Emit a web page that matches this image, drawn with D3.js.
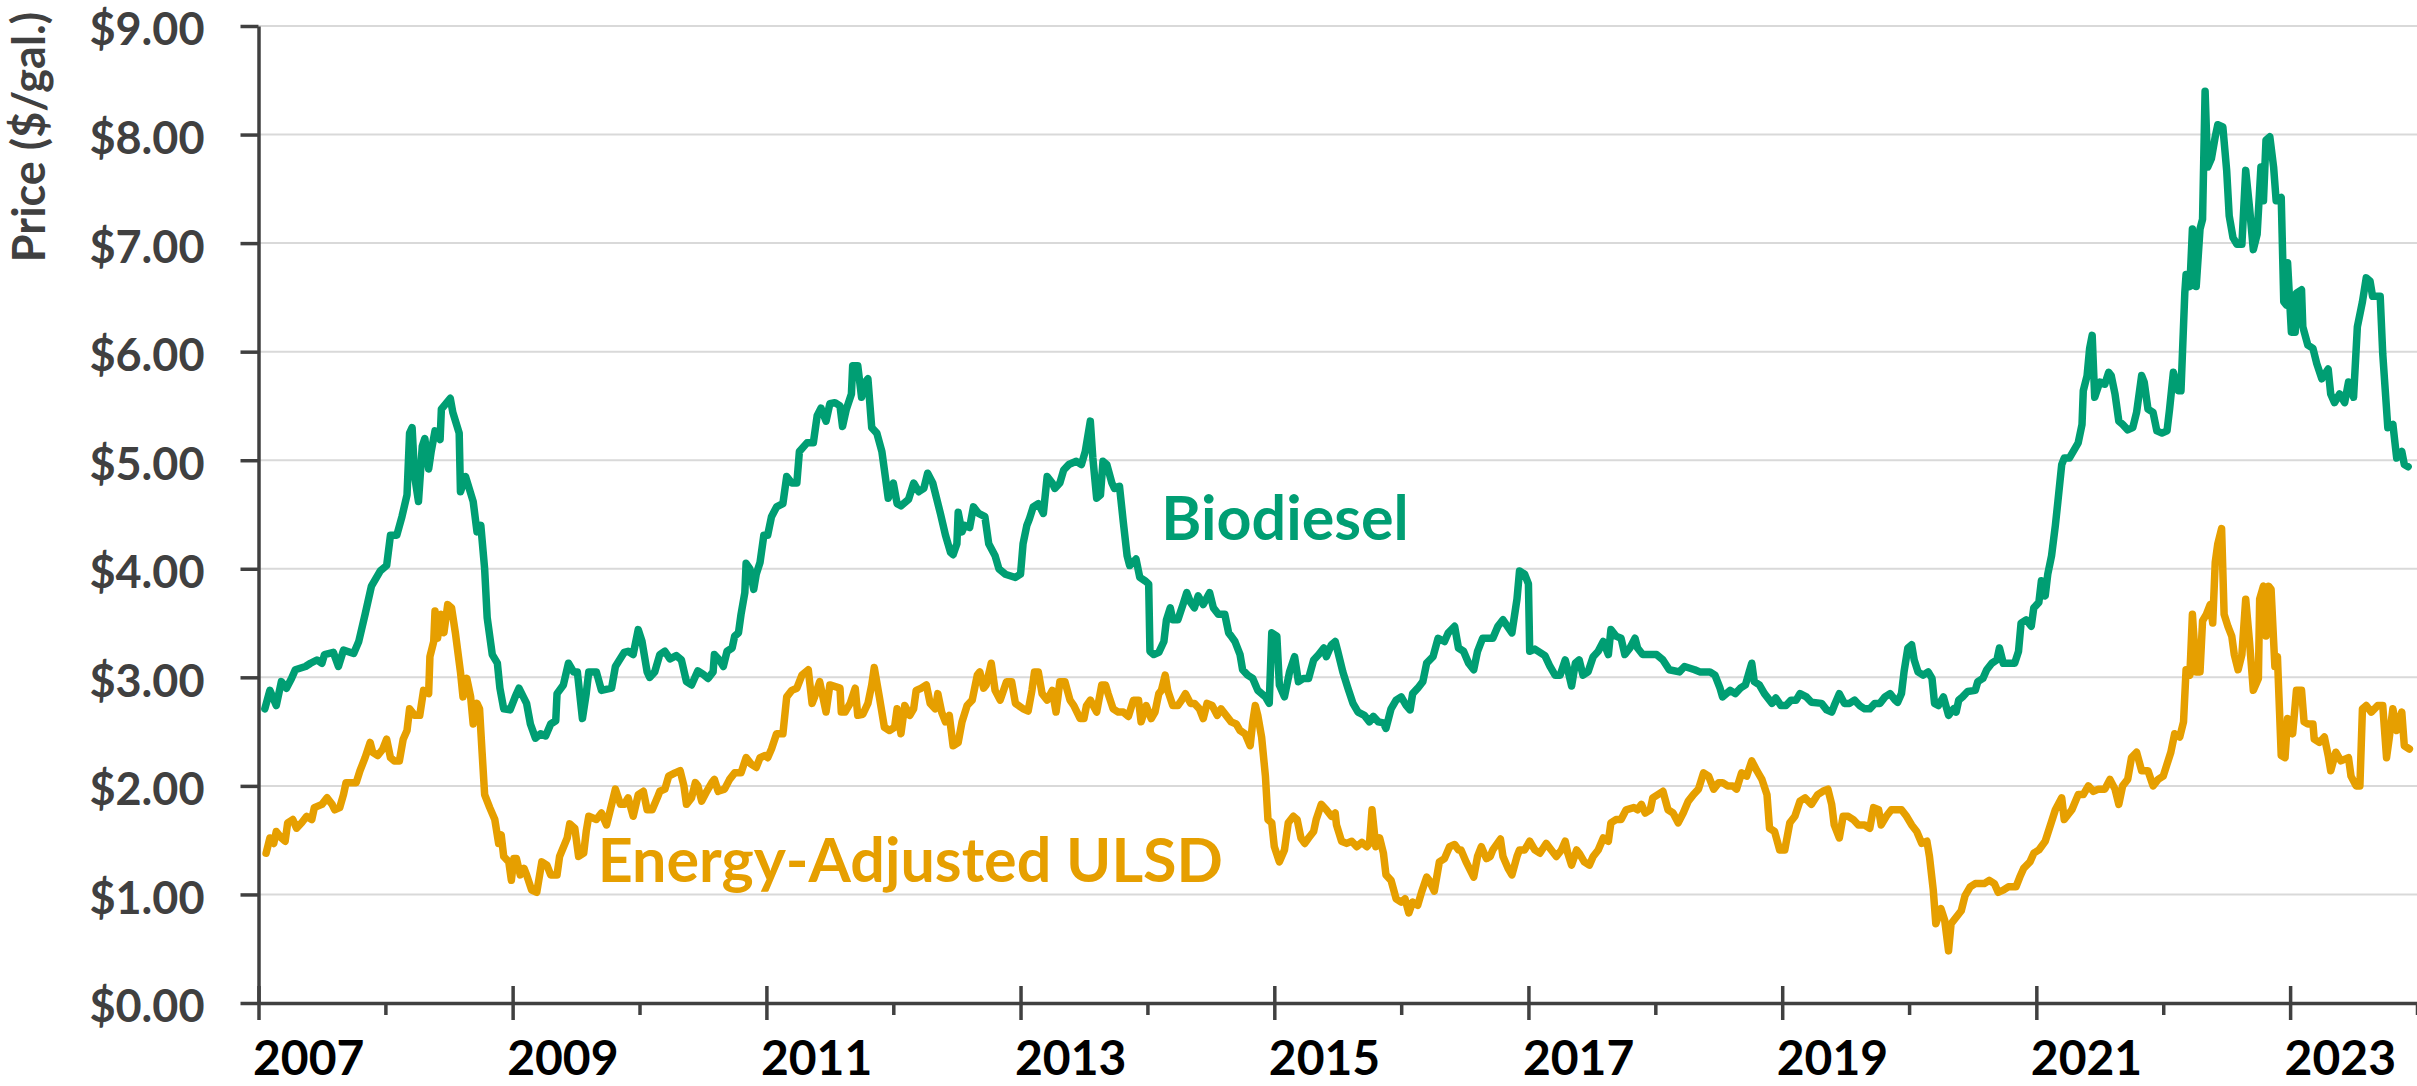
<!DOCTYPE html>
<html>
<head>
<meta charset="utf-8">
<script src="https://cdn.jsdelivr.net/npm/d3@7"></script>
<style>
    body { margin: 0; background: #fff; }
    svg { display: block; font-family: Lato, "Open Sans", sans-serif; font-weight: 700; }
</style>
</head>
<body>
<div class="content"></div>
<script>
// weekly prices, [decimal year, $/gal]
var biodieselPrices = [
    [2007.05,2.71],[2007.09,2.88],[2007.14,2.74],[2007.18,2.96],[2007.22,2.90],[2007.26,2.99],[2007.29,3.07],[2007.37,3.10],[2007.41,3.13],[2007.46,3.16],[2007.50,3.13],[2007.52,3.21],[2007.59,3.23],[2007.63,3.10],[2007.67,3.25],[2007.75,3.22],[2007.79,3.33],[2007.84,3.58],[2007.89,3.84],[2007.96,3.98],
    [2008.01,4.03],[2008.04,4.31],[2008.09,4.31],[2008.13,4.48],[2008.17,4.68],[2008.19,5.25],[2008.21,5.30],[2008.23,4.85],[2008.26,4.62],[2008.29,5.13],[2008.31,5.20],[2008.34,4.92],[2008.36,5.08],[2008.39,5.27],[2008.43,5.19],[2008.44,5.47],[2008.51,5.57],[2008.53,5.44],[2008.58,5.25],[2008.59,4.71],[2008.63,4.85],[2008.69,4.62],[2008.72,4.34],[2008.75,4.40],[2008.78,4.00],[2008.80,3.55],[2008.84,3.21],[2008.88,3.13],[2008.90,2.90],[2008.93,2.71],[2008.98,2.70],
    [2009.02,2.82],[2009.05,2.90],[2009.11,2.76],[2009.14,2.57],[2009.18,2.44],[2009.22,2.48],[2009.26,2.46],[2009.30,2.57],[2009.34,2.60],[2009.35,2.85],[2009.40,2.93],[2009.44,3.13],[2009.48,3.05],[2009.51,3.05],[2009.55,2.62],[2009.58,2.85],[2009.60,3.05],[2009.66,3.05],[2009.70,2.88],[2009.78,2.90],[2009.81,3.10],[2009.88,3.23],[2009.91,3.24],[2009.95,3.21],[2009.99,3.44],
    [2010.02,3.33],[2010.06,3.05],[2010.08,3.00],[2010.12,3.05],[2010.16,3.21],[2010.20,3.24],[2010.24,3.17],[2010.29,3.20],[2010.33,3.16],[2010.37,2.96],[2010.41,2.93],[2010.46,3.06],[2010.50,3.03],[2010.54,2.99],[2010.58,3.05],[2010.59,3.21],[2010.63,3.16],[2010.66,3.10],[2010.69,3.24],[2010.73,3.27],[2010.75,3.38],[2010.78,3.41],[2010.80,3.58],[2010.83,3.78],[2010.84,4.05],[2010.87,4.00],[2010.90,3.81],[2010.92,3.95],[2010.95,4.06],[2010.98,4.31],
    [2011.01,4.31],[2011.04,4.48],[2011.08,4.57],[2011.13,4.60],[2011.16,4.85],[2011.20,4.79],[2011.24,4.79],[2011.26,5.08],[2011.32,5.16],[2011.37,5.16],[2011.40,5.41],[2011.43,5.48],[2011.47,5.36],[2011.50,5.52],[2011.54,5.53],[2011.58,5.50],[2011.60,5.31],[2011.63,5.47],[2011.67,5.61],[2011.68,5.87],[2011.72,5.87],[2011.75,5.58],[2011.78,5.72],[2011.80,5.75],[2011.83,5.30],[2011.87,5.25],[2011.91,5.08],[2011.93,4.91],[2011.96,4.65],
    [2012.00,4.79],[2012.03,4.60],[2012.06,4.58],[2012.12,4.64],[2012.16,4.79],[2012.20,4.71],[2012.24,4.74],[2012.27,4.88],[2012.31,4.79],[2012.37,4.51],[2012.41,4.31],[2012.45,4.15],[2012.47,4.13],[2012.50,4.23],[2012.51,4.52],[2012.54,4.34],[2012.56,4.40],[2012.60,4.38],[2012.63,4.57],[2012.67,4.51],[2012.72,4.48],[2012.75,4.23],[2012.80,4.12],[2012.83,4.00],[2012.88,3.95],[2012.96,3.92],
    [2013.00,3.95],[2013.02,4.23],[2013.05,4.40],[2013.07,4.46],[2013.10,4.57],[2013.14,4.60],[2013.18,4.51],[2013.21,4.85],[2013.25,4.79],[2013.27,4.74],[2013.31,4.79],[2013.34,4.91],[2013.38,4.96],[2013.44,4.99],[2013.48,4.96],[2013.51,5.08],[2013.55,5.36],[2013.57,5.02],[2013.60,4.65],[2013.63,4.68],[2013.65,4.99],[2013.68,4.96],[2013.72,4.79],[2013.74,4.74],[2013.78,4.76],[2013.81,4.43],[2013.84,4.12],[2013.86,4.03],[2013.91,4.09],[2013.94,3.92],[2013.98,3.89],
    [2014.01,3.86],[2014.02,3.24],[2014.05,3.21],[2014.09,3.23],[2014.13,3.33],[2014.15,3.53],[2014.18,3.64],[2014.20,3.53],[2014.24,3.53],[2014.28,3.67],[2014.31,3.78],[2014.34,3.69],[2014.37,3.64],[2014.40,3.75],[2014.44,3.67],[2014.49,3.78],[2014.52,3.64],[2014.56,3.58],[2014.61,3.58],[2014.64,3.41],[2014.66,3.38],[2014.69,3.33],[2014.73,3.21],[2014.75,3.07],[2014.79,3.02],[2014.83,2.99],[2014.87,2.88],[2014.93,2.82],[2014.96,2.76],[2014.98,3.41],
    [2015.02,3.38],[2015.04,2.93],[2015.08,2.82],[2015.12,3.05],[2015.16,3.19],[2015.19,2.96],[2015.23,2.99],[2015.27,2.99],[2015.31,3.16],[2015.35,3.21],[2015.39,3.27],[2015.41,3.19],[2015.45,3.30],[2015.48,3.33],[2015.50,3.24],[2015.54,3.05],[2015.58,2.90],[2015.62,2.76],[2015.66,2.68],[2015.71,2.65],[2015.75,2.59],[2015.78,2.64],[2015.82,2.59],[2015.86,2.58],[2015.88,2.53],[2015.92,2.71],[2015.96,2.79],
    [2016.00,2.82],[2016.04,2.74],[2016.07,2.70],[2016.09,2.85],[2016.13,2.90],[2016.17,2.96],[2016.20,3.13],[2016.25,3.19],[2016.29,3.36],[2016.34,3.33],[2016.37,3.41],[2016.42,3.47],[2016.45,3.27],[2016.49,3.24],[2016.53,3.13],[2016.57,3.07],[2016.60,3.24],[2016.64,3.36],[2016.72,3.36],[2016.76,3.47],[2016.80,3.53],[2016.87,3.41],[2016.91,3.72],[2016.93,3.98],[2016.97,3.95],
    [2017.00,3.86],[2017.01,3.24],[2017.05,3.26],[2017.09,3.23],[2017.13,3.20],[2017.17,3.10],[2017.21,3.02],[2017.25,3.02],[2017.29,3.16],[2017.31,3.07],[2017.34,2.92],[2017.37,3.13],[2017.40,3.16],[2017.43,3.02],[2017.47,3.05],[2017.51,3.19],[2017.55,3.24],[2017.59,3.33],[2017.63,3.21],[2017.65,3.44],[2017.69,3.38],[2017.73,3.36],[2017.76,3.21],[2017.80,3.27],[2017.84,3.36],[2017.86,3.27],[2017.90,3.21],
    [2018.01,3.21],[2018.06,3.16],[2018.11,3.07],[2018.19,3.05],[2018.23,3.10],[2018.31,3.07],[2018.35,3.05],[2018.43,3.05],[2018.47,3.02],[2018.51,2.90],[2018.53,2.82],[2018.59,2.88],[2018.63,2.85],[2018.67,2.90],[2018.71,2.93],[2018.74,3.05],[2018.76,3.13],[2018.78,2.96],[2018.82,2.93],[2018.86,2.85],[2018.92,2.76],[2018.95,2.81],[2018.99,2.74],
    [2019.03,2.74],[2019.07,2.79],[2019.11,2.79],[2019.14,2.85],[2019.19,2.82],[2019.23,2.77],[2019.31,2.76],[2019.35,2.70],[2019.39,2.68],[2019.41,2.74],[2019.45,2.85],[2019.49,2.76],[2019.53,2.76],[2019.57,2.79],[2019.61,2.74],[2019.65,2.71],[2019.69,2.71],[2019.73,2.76],[2019.77,2.76],[2019.81,2.82],[2019.85,2.85],[2019.89,2.79],[2019.91,2.77],[2019.94,2.85],[2019.96,3.05],[2019.99,3.27],
    [2020.02,3.30],[2020.04,3.16],[2020.07,3.05],[2020.11,3.02],[2020.15,3.05],[2020.18,2.99],[2020.20,2.76],[2020.23,2.74],[2020.27,2.82],[2020.31,2.65],[2020.35,2.71],[2020.37,2.68],[2020.39,2.79],[2020.42,2.82],[2020.46,2.87],[2020.52,2.88],[2020.54,2.96],[2020.58,2.99],[2020.61,3.07],[2020.65,3.13],[2020.69,3.16],[2020.71,3.27],[2020.74,3.13],[2020.83,3.13],[2020.86,3.24],[2020.88,3.50],[2020.92,3.53],[2020.96,3.47],[2020.98,3.64],
    [2021.02,3.69],[2021.04,3.89],[2021.07,3.75],[2021.09,3.95],[2021.12,4.12],[2021.15,4.40],[2021.17,4.62],[2021.20,4.96],[2021.22,5.02],[2021.26,5.02],[2021.29,5.08],[2021.33,5.16],[2021.36,5.33],[2021.37,5.64],[2021.40,5.78],[2021.42,6.03],[2021.44,6.15],[2021.46,5.58],[2021.50,5.72],[2021.54,5.70],[2021.57,5.81],[2021.59,5.78],[2021.62,5.61],[2021.65,5.36],[2021.68,5.33],[2021.72,5.28],[2021.76,5.30],[2021.79,5.44],[2021.83,5.78],[2021.85,5.72],[2021.88,5.47],[2021.92,5.44],[2021.95,5.27],[2021.99,5.25],
    [2022.03,5.27],[2022.05,5.47],[2022.08,5.81],[2022.12,5.64],[2022.14,5.64],[2022.17,6.54],[2022.18,6.71],[2022.21,6.60],[2022.23,7.13],[2022.26,6.60],[2022.29,7.13],[2022.31,7.22],[2022.33,8.40],[2022.35,7.70],[2022.38,7.78],[2022.41,7.98],[2022.43,8.09],[2022.47,8.07],[2022.50,7.67],[2022.52,7.25],[2022.55,7.05],[2022.58,6.99],[2022.62,6.99],[2022.65,7.67],[2022.68,7.33],[2022.71,6.94],[2022.74,7.08],[2022.77,7.70],[2022.79,7.39],[2022.81,7.95],[2022.84,7.98],[2022.87,7.70],[2022.89,7.39],[2022.93,7.42],[2022.95,6.46],[2022.97,6.43],[2022.98,6.82],
    [2023.01,6.18],[2023.04,6.18],[2023.05,6.54],[2023.09,6.57],[2023.10,6.23],[2023.14,6.06],[2023.18,6.03],[2023.21,5.89],[2023.25,5.75],[2023.30,5.84],[2023.32,5.61],[2023.35,5.53],[2023.39,5.61],[2023.43,5.53],[2023.46,5.72],[2023.50,5.58],[2023.53,6.23],[2023.57,6.46],[2023.60,6.68],[2023.63,6.65],[2023.65,6.51],[2023.71,6.51],[2023.73,5.98],[2023.77,5.30],[2023.81,5.33],[2023.84,5.02],[2023.88,5.08],[2023.90,4.96],[2023.93,4.94]
];

var ulsdPrices = [
    [2007.06,1.38],[2007.09,1.52],[2007.12,1.47],[2007.14,1.58],[2007.18,1.52],[2007.21,1.49],[2007.23,1.66],[2007.27,1.69],[2007.30,1.61],[2007.34,1.66],[2007.38,1.72],[2007.42,1.69],[2007.44,1.80],[2007.50,1.83],[2007.54,1.89],[2007.58,1.83],[2007.60,1.78],[2007.64,1.80],[2007.67,1.92],[2007.69,2.03],[2007.77,2.03],[2007.80,2.14],[2007.84,2.26],[2007.88,2.40],[2007.90,2.31],[2007.94,2.28],[2007.98,2.34],
    [2008.01,2.43],[2008.04,2.26],[2008.07,2.23],[2008.11,2.23],[2008.14,2.43],[2008.17,2.51],[2008.19,2.71],[2008.23,2.65],[2008.27,2.65],[2008.30,2.88],[2008.34,2.85],[2008.35,3.19],[2008.38,3.33],[2008.39,3.61],[2008.41,3.36],[2008.44,3.58],[2008.46,3.41],[2008.49,3.67],[2008.52,3.64],[2008.55,3.41],[2008.59,3.05],[2008.61,2.82],[2008.64,2.99],[2008.67,2.82],[2008.69,2.57],[2008.72,2.76],[2008.74,2.71],[2008.76,2.31],[2008.78,1.92],[2008.82,1.80],[2008.86,1.69],[2008.89,1.47],[2008.91,1.55],[2008.93,1.35],[2008.97,1.30],[2008.99,1.13],
    [2009.01,1.33],[2009.03,1.33],[2009.06,1.18],[2009.09,1.24],[2009.11,1.18],[2009.15,1.04],[2009.19,1.02],[2009.23,1.30],[2009.27,1.27],[2009.30,1.18],[2009.35,1.18],[2009.37,1.35],[2009.43,1.52],[2009.45,1.65],[2009.49,1.61],[2009.52,1.35],[2009.56,1.38],[2009.58,1.58],[2009.60,1.72],[2009.66,1.69],[2009.70,1.75],[2009.74,1.64],[2009.77,1.78],[2009.81,1.97],[2009.85,1.83],[2009.88,1.83],[2009.91,1.89],[2009.95,1.72],[2009.99,1.92],
    [2010.03,1.95],[2010.06,1.78],[2010.10,1.78],[2010.14,1.89],[2010.16,1.95],[2010.20,1.97],[2010.23,2.09],[2010.28,2.12],[2010.32,2.14],[2010.35,2.00],[2010.37,1.83],[2010.41,1.89],[2010.44,2.03],[2010.46,2.00],[2010.49,1.86],[2010.53,1.95],[2010.57,2.03],[2010.59,2.06],[2010.62,1.95],[2010.67,1.97],[2010.71,2.06],[2010.75,2.12],[2010.80,2.12],[2010.84,2.26],[2010.88,2.20],[2010.92,2.17],[2010.95,2.26],[2010.99,2.28],
    [2011.01,2.26],[2011.04,2.34],[2011.08,2.48],[2011.13,2.48],[2011.16,2.82],[2011.20,2.88],[2011.24,2.90],[2011.28,3.02],[2011.33,3.07],[2011.36,2.76],[2011.38,2.82],[2011.42,2.96],[2011.47,2.68],[2011.50,2.93],[2011.58,2.90],[2011.59,2.68],[2011.62,2.68],[2011.66,2.76],[2011.70,2.90],[2011.72,2.65],[2011.76,2.66],[2011.80,2.76],[2011.83,2.93],[2011.85,3.09],[2011.89,2.82],[2011.93,2.54],[2011.97,2.51],
    [2012.01,2.54],[2012.03,2.71],[2012.06,2.48],[2012.09,2.74],[2012.13,2.65],[2012.16,2.71],[2012.18,2.88],[2012.22,2.90],[2012.26,2.93],[2012.29,2.76],[2012.33,2.71],[2012.35,2.85],[2012.38,2.68],[2012.41,2.59],[2012.44,2.65],[2012.47,2.37],[2012.51,2.40],[2012.54,2.59],[2012.58,2.74],[2012.62,2.79],[2012.66,3.02],[2012.68,3.05],[2012.71,2.90],[2012.73,2.93],[2012.77,3.13],[2012.80,2.88],[2012.84,2.79],[2012.89,2.96],[2012.93,2.96],[2012.96,2.76],
    [2013.02,2.71],[2013.06,2.69],[2013.09,2.88],[2013.11,3.05],[2013.14,3.05],[2013.17,2.85],[2013.21,2.79],[2013.25,2.88],[2013.28,2.68],[2013.31,2.96],[2013.35,2.96],[2013.39,2.79],[2013.42,2.74],[2013.47,2.62],[2013.50,2.62],[2013.52,2.74],[2013.55,2.79],[2013.60,2.68],[2013.64,2.93],[2013.67,2.93],[2013.69,2.85],[2013.73,2.71],[2013.77,2.68],[2013.81,2.68],[2013.85,2.64],[2013.89,2.79],[2013.93,2.79],[2013.95,2.59],[2013.99,2.74],
    [2014.03,2.62],[2014.06,2.68],[2014.09,2.85],[2014.11,2.88],[2014.14,3.02],[2014.16,2.88],[2014.20,2.74],[2014.24,2.74],[2014.27,2.79],[2014.30,2.85],[2014.34,2.76],[2014.37,2.76],[2014.41,2.71],[2014.44,2.62],[2014.47,2.76],[2014.51,2.74],[2014.55,2.65],[2014.58,2.71],[2014.62,2.65],[2014.66,2.59],[2014.70,2.57],[2014.73,2.51],[2014.77,2.48],[2014.81,2.37],[2014.83,2.59],[2014.85,2.74],[2014.87,2.65],[2014.90,2.45],[2014.93,2.09],[2014.95,1.69],[2014.98,1.66],
    [2015.00,1.44],[2015.04,1.30],[2015.08,1.41],[2015.11,1.66],[2015.15,1.72],[2015.18,1.69],[2015.21,1.52],[2015.24,1.47],[2015.27,1.52],[2015.31,1.58],[2015.33,1.69],[2015.37,1.83],[2015.41,1.78],[2015.45,1.72],[2015.48,1.75],[2015.49,1.64],[2015.53,1.49],[2015.57,1.47],[2015.61,1.49],[2015.65,1.44],[2015.69,1.48],[2015.73,1.44],[2015.75,1.47],[2015.77,1.78],[2015.80,1.44],[2015.83,1.52],[2015.86,1.38],[2015.88,1.18],[2015.92,1.13],[2015.96,0.96],
    [2016.00,0.93],[2016.03,0.96],[2016.06,0.83],[2016.09,0.93],[2016.13,0.90],[2016.16,1.02],[2016.20,1.16],[2016.22,1.13],[2016.26,1.03],[2016.30,1.30],[2016.34,1.33],[2016.38,1.44],[2016.42,1.46],[2016.45,1.41],[2016.47,1.41],[2016.51,1.30],[2016.57,1.16],[2016.60,1.35],[2016.63,1.44],[2016.67,1.33],[2016.70,1.35],[2016.72,1.41],[2016.78,1.51],[2016.80,1.35],[2016.84,1.24],[2016.87,1.18],[2016.91,1.35],[2016.93,1.41],[2016.97,1.41],
    [2017.01,1.49],[2017.05,1.41],[2017.09,1.38],[2017.14,1.47],[2017.18,1.41],[2017.22,1.35],[2017.26,1.41],[2017.29,1.49],[2017.31,1.38],[2017.34,1.27],[2017.38,1.41],[2017.40,1.38],[2017.44,1.30],[2017.48,1.27],[2017.51,1.35],[2017.55,1.41],[2017.59,1.52],[2017.63,1.49],[2017.65,1.66],[2017.69,1.69],[2017.73,1.69],[2017.77,1.78],[2017.83,1.80],[2017.86,1.78],[2017.89,1.83],[2017.92,1.75],[2017.96,1.78],[2017.98,1.89],
    [2018.02,1.92],[2018.06,1.95],[2018.10,1.78],[2018.14,1.75],[2018.18,1.66],[2018.22,1.75],[2018.26,1.86],[2018.30,1.92],[2018.34,1.97],[2018.38,2.12],[2018.42,2.09],[2018.46,1.97],[2018.50,2.03],[2018.53,2.03],[2018.57,2.00],[2018.61,2.00],[2018.64,1.97],[2018.68,2.12],[2018.72,2.09],[2018.76,2.23],[2018.80,2.14],[2018.84,2.06],[2018.88,1.92],[2018.90,1.61],[2018.94,1.58],[2018.98,1.41],
    [2019.02,1.41],[2019.06,1.66],[2019.10,1.72],[2019.14,1.86],[2019.18,1.89],[2019.23,1.83],[2019.28,1.92],[2019.32,1.95],[2019.36,1.97],[2019.39,1.83],[2019.41,1.64],[2019.45,1.52],[2019.48,1.72],[2019.52,1.72],[2019.56,1.69],[2019.60,1.64],[2019.65,1.64],[2019.69,1.61],[2019.72,1.80],[2019.76,1.78],[2019.78,1.64],[2019.82,1.72],[2019.86,1.78],[2019.94,1.78],[2019.98,1.72],
    [2020.02,1.64],[2020.06,1.58],[2020.10,1.47],[2020.14,1.49],[2020.16,1.35],[2020.19,1.04],[2020.21,0.73],[2020.25,0.87],[2020.28,0.76],[2020.31,0.48],[2020.33,0.73],[2020.37,0.79],[2020.41,0.85],[2020.44,0.99],[2020.48,1.07],[2020.52,1.10],[2020.59,1.10],[2020.63,1.13],[2020.67,1.10],[2020.70,1.02],[2020.74,1.04],[2020.78,1.07],[2020.84,1.07],[2020.87,1.16],[2020.90,1.24],[2020.95,1.30],[2020.98,1.38],
    [2021.02,1.41],[2021.07,1.49],[2021.15,1.78],[2021.20,1.89],[2021.22,1.69],[2021.28,1.78],[2021.33,1.92],[2021.37,1.92],[2021.41,2.00],[2021.45,1.95],[2021.49,1.97],[2021.54,1.97],[2021.58,2.06],[2021.62,1.97],[2021.65,1.83],[2021.68,2.00],[2021.72,2.06],[2021.75,2.26],[2021.79,2.31],[2021.83,2.14],[2021.88,2.14],[2021.92,2.00],[2021.96,2.06],
    [2022.00,2.09],[2022.03,2.20],[2022.06,2.31],[2022.09,2.48],[2022.13,2.45],[2022.16,2.59],[2022.18,3.07],[2022.21,3.02],[2022.23,3.58],[2022.26,3.05],[2022.29,3.05],[2022.31,3.52],[2022.34,3.58],[2022.37,3.67],[2022.39,3.50],[2022.41,4.06],[2022.43,4.23],[2022.46,4.37],[2022.48,3.58],[2022.51,3.47],[2022.54,3.38],[2022.56,3.21],[2022.59,3.07],[2022.62,3.21],[2022.65,3.72],[2022.68,3.33],[2022.71,2.88],[2022.75,2.99],[2022.76,3.72],[2022.79,3.84],[2022.81,3.38],[2022.83,3.84],[2022.85,3.81],[2022.88,3.10],[2022.90,3.19],[2022.93,2.28],[2022.96,2.26],[2022.98,2.62],
    [2023.02,2.48],[2023.05,2.88],[2023.09,2.88],[2023.11,2.59],[2023.14,2.57],[2023.18,2.57],[2023.19,2.43],[2023.23,2.40],[2023.27,2.45],[2023.30,2.28],[2023.32,2.14],[2023.36,2.31],[2023.40,2.23],[2023.46,2.26],[2023.48,2.09],[2023.52,2.00],[2023.55,2.00],[2023.57,2.71],[2023.60,2.74],[2023.64,2.68],[2023.69,2.74],[2023.73,2.74],[2023.76,2.26],[2023.78,2.43],[2023.81,2.71],[2023.84,2.51],[2023.88,2.68],[2023.90,2.37],[2023.94,2.34]
];

var priceTicks = [0, 1, 2, 3, 4, 5, 6, 7, 8, 9];
var seriesNames = ["Biodiesel", "Energy-Adjusted ULSD"];
var axisTitle = "Price ($/gal.)";

(function (window) {
    'use strict';
    var chartOptions = {
        width: 2417,
        height: 1086,
        margin: {top: 26, right: 0, bottom: 83, left: 258.5},
        colors: ["#009e73", "#e69f00"],
        axisColor: "#404040",
        gridColor: "#d9d9d9",
        lineWidth: 7.5,
        // where each series name sits, in data units [year, price]
        labelAt: [[2014.11, 4.265], [2009.67, 1.115]]
    };

    function toDate(t) {
        var y = Math.floor(t),
            start = new Date(y, 0, 1),
            end = new Date(y + 1, 0, 1);
        return new Date(+start + (t - y) * (end - start));
    }

    function createBoard() {
        return d3.select(".content").append("svg")
            .attr("width", chartOptions.width)
            .attr("height", chartOptions.height);
    }

    function drawChart() {
        var svg = createBoard(), m = chartOptions.margin,
            x, y, xAxis, yAxis, line, series;

        x = d3.scaleTime()
            .domain([new Date(2007, 0, 1), new Date(2024, 0, 1)])
            .range([m.left, chartOptions.width - m.right]);
        y = d3.scaleLinear()
            .domain([0, 9])
            .range([chartOptions.height - m.bottom, m.top]);

        // gridlines
        svg.append("g").selectAll("line")
            .data(priceTicks.slice(1))
            .enter().append("line")
            .attr("x1", m.left)
            .attr("x2", chartOptions.width)
            .attr("y1", function (d) { return y(d); })
            .attr("y2", function (d) { return y(d); })
            .attr("stroke", chartOptions.gridColor)
            .attr("stroke-width", 2);

        // lines
        line = d3.line()
            .x(function (d) { return x(toDate(d[0])); })
            .y(function (d) { return y(d[1]); });

        series = [biodieselPrices, ulsdPrices];
        svg.append("g").selectAll("path")
            .data(series)
            .enter().append("path")
            .attr("d", line)
            .attr("fill", "none")
            .attr("stroke", function (d, i) { return chartOptions.colors[i]; })
            .attr("stroke-width", chartOptions.lineWidth)
            .attr("stroke-linejoin", "round")
            .attr("stroke-linecap", "round");

        // y axis
        yAxis = svg.append("g")
            .attr("transform", "translate(" + m.left + ",0)")
            .call(d3.axisLeft(y)
                .tickValues(priceTicks)
                .tickSize(18)
                .tickSizeOuter(0)
                .tickPadding(36)
                .tickFormat(function (d) { return "$" + d.toFixed(2); }));
        yAxis.select(".domain").attr("stroke", chartOptions.axisColor).attr("stroke-width", 3.5);
        yAxis.selectAll(".tick line").attr("stroke", chartOptions.axisColor).attr("stroke-width", 3.5);
        yAxis.selectAll(".tick text")
            .attr("fill", chartOptions.axisColor)
            .attr("font-size", "45px")
            .attr("font-family", "Lato, sans-serif")
            .attr("font-weight", 700)
            .attr("dy", "0.42em");

        // x axis
        xAxis = svg.append("g")
            .attr("transform", "translate(0," + y(0) + ")")
            .call(d3.axisBottom(x)
                .ticks(d3.timeYear.every(1))
                .tickSizeOuter(0)
                .tickFormat(function (d) {
                    return d.getFullYear() % 2 === 1 ? d.getFullYear() : "";
                }));
        xAxis.select(".domain").attr("stroke", chartOptions.axisColor).attr("stroke-width", 3.5);
        xAxis.selectAll(".tick line")
            .attr("stroke", chartOptions.axisColor)
            .attr("stroke-width", 3.5)
            .attr("y1", function (d) { return d.getFullYear() % 2 === 1 ? -17 : 0; })
            .attr("y2", function (d) { return d.getFullYear() % 2 === 1 ? 17 : 12; });
        xAxis.selectAll(".tick text")
            .attr("fill", "#000")
            .attr("font-size", "48px")
            .attr("font-family", "Lato, sans-serif")
            .attr("font-weight", 700)
            .attr("text-anchor", "start")
            .attr("x", -6)
            .attr("y", 72)
            .attr("dy", 0);

        // axis title
        svg.append("text")
            .text(axisTitle)
            .attr("transform", "translate(45,137) rotate(-90)")
            .attr("text-anchor", "middle")
            .attr("font-size", "45px")
            .attr("fill", chartOptions.axisColor);

        // series names
        svg.append("g").selectAll("text")
            .data(seriesNames)
            .enter().append("text")
            .text(function (d) { return d; })
            .attr("x", function (d, i) { return x(toDate(chartOptions.labelAt[i][0])); })
            .attr("y", function (d, i) { return y(chartOptions.labelAt[i][1]); })
            .attr("font-size", "61px")
            .attr("fill", function (d, i) { return chartOptions.colors[i]; });
    }

    drawChart();
}(window));
</script>
</body>
</html>
